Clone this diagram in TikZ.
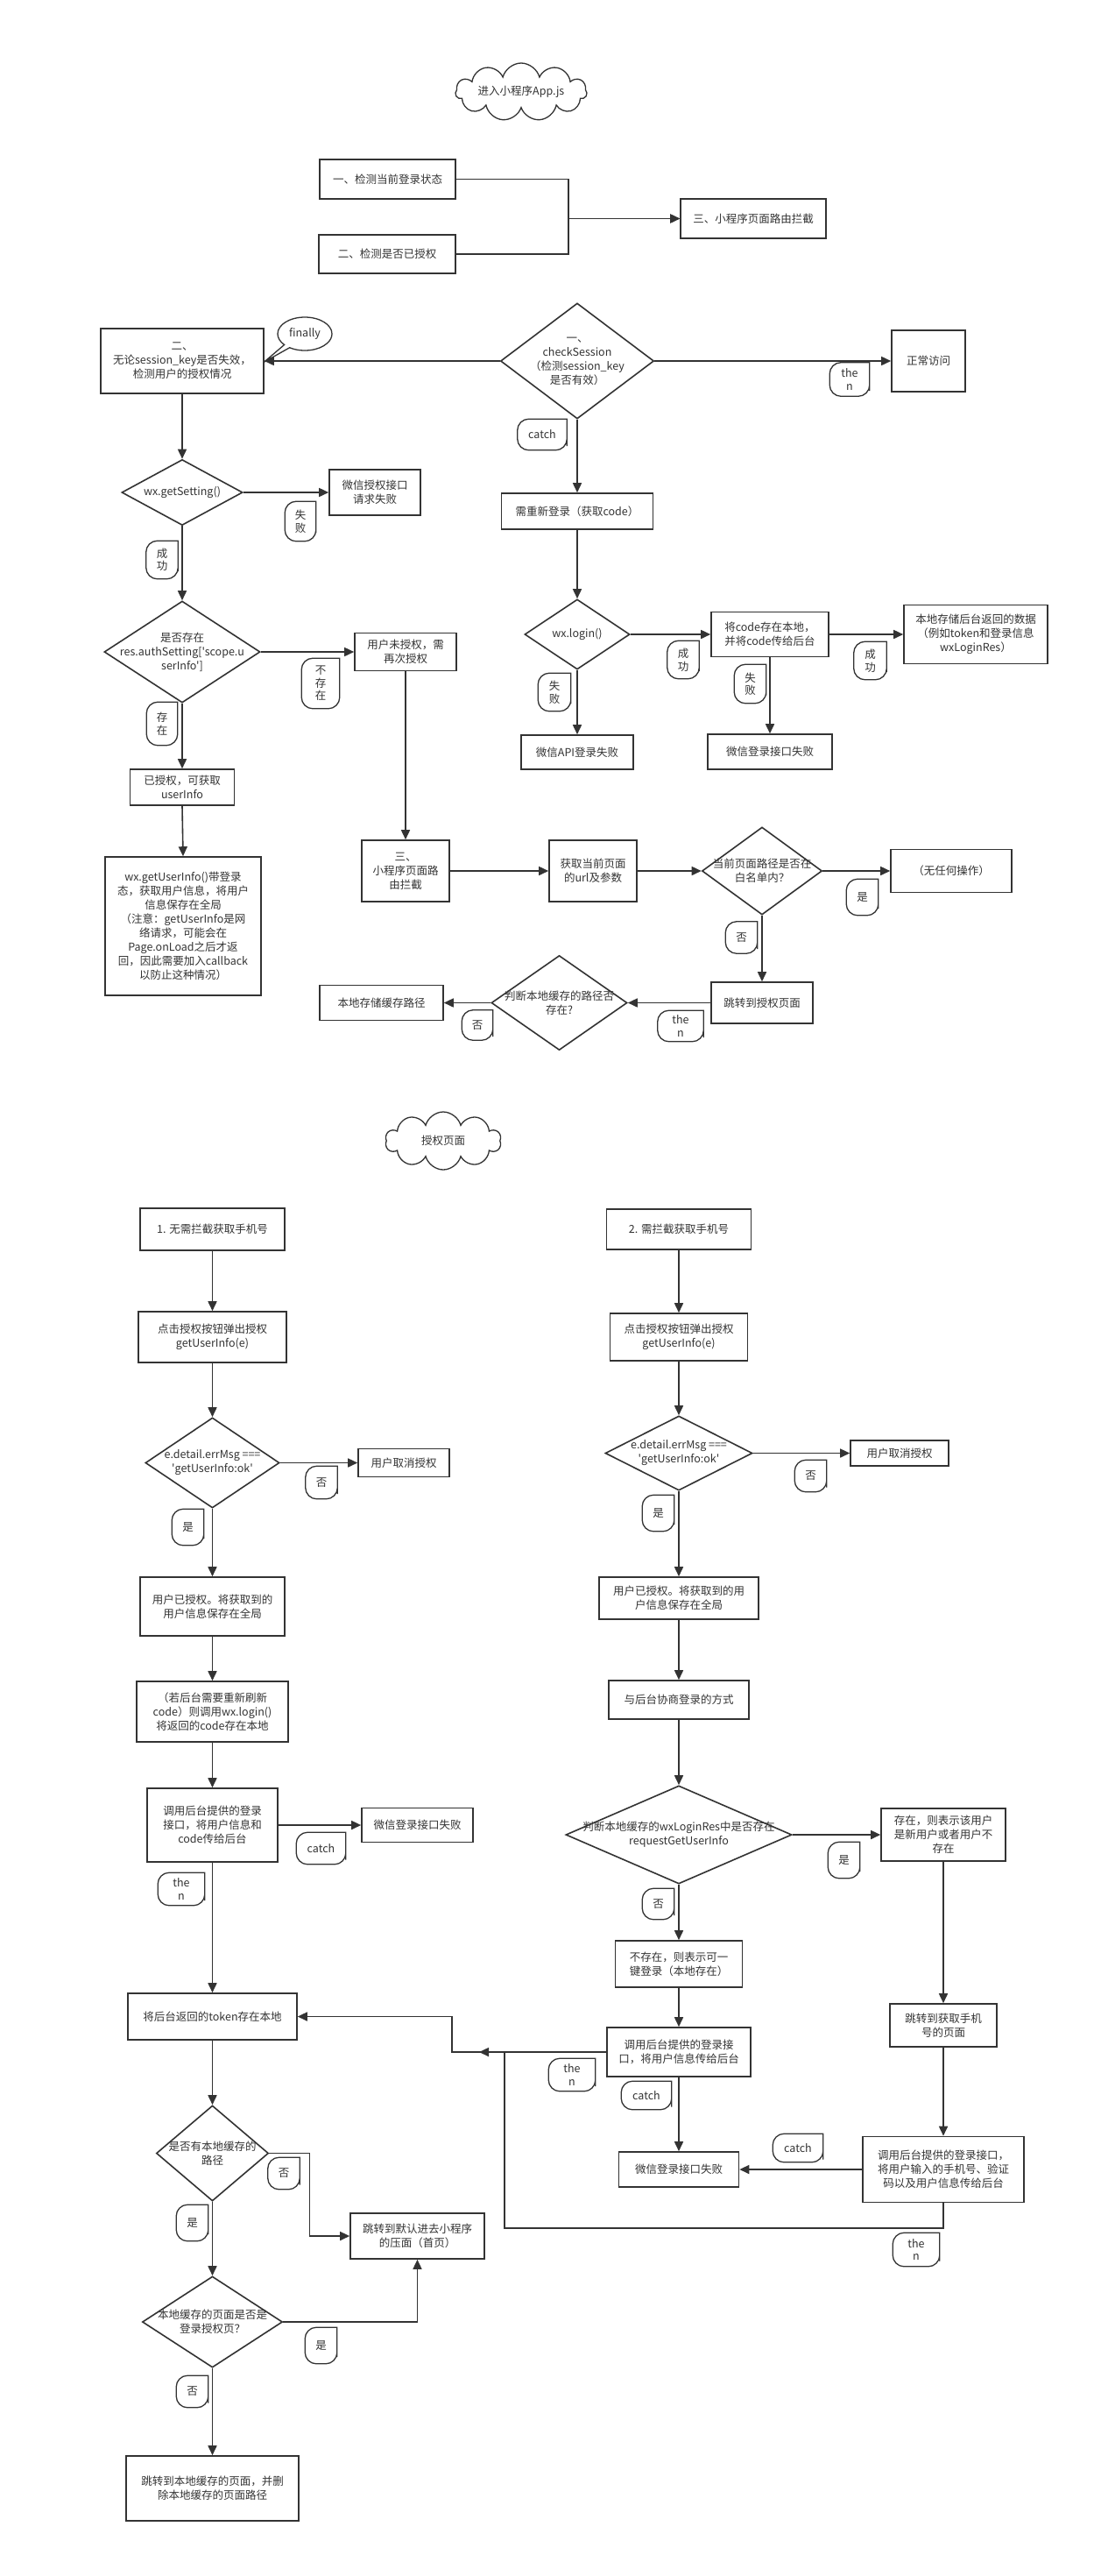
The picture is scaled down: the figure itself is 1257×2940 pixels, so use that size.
\documentclass[tikz,border=0pt]{standalone}
\usepackage{fontspec}
\usetikzlibrary{arrows.meta,shapes.geometric,shapes.symbols,shapes.callouts}
\newfontfamily\cjkfont{Noto Sans CJK SC}
\definecolor{linegray}{HTML}{333333}

\begin{document}
\begin{tikzpicture}[x=1pt, y=-1pt, color=linegray, line width=1.6pt,
  >={Triangle[length=11pt,width=10pt]},
  font=\cjkfont\fontsize{12.5}{16}\selectfont,
  every label/.style={align=center},
  box/.style 2 args={draw, rectangle, align=center, inner sep=2pt, minimum width=#1, minimum height=#2},
  dia/.style 2 args={draw, diamond, inner sep=0pt, minimum width=#1, minimum height=#2},
  tag/.style 2 args={align=center, inner sep=0pt, minimum width=#1, minimum height=#2,
    font=\cjkfont\fontsize{12.5}{14.5}\selectfont},
  tagline/.style={line width=1.3pt},
  bubble/.style={draw, line width=1.3pt, inner sep=0pt}]

\useasboundingbox[fill=white] (0,0) rectangle (1257,2940);

% ---- App.js ----
\node[bubble, cloud, cloud puffs=11, cloud ignores aspect, minimum width=150, minimum height=66] (app) at (595,105) {进入小程序App.js};
\node[box={155}{45}] (b1) at (442.5,204.5) {一、检测当前登录状态};
\node[box={156}{44}] (b2) at (442,290) {二、检测是否已授权};
\node[box={166}{45}] (b3) at (860,249.5) {三、小程序页面路由拦截};
\coordinate (j1) at (649,249.5);

\node[dia={175}{132}, label={center:一、\\checkSession\\（检测session\_key\\是否有效）}] (cs) at (659,412) {};
\node[box={186}{74}] (auth) at (208,412) {二、\\无论session\_key是否失效，\\检测用户的授权情况};
\node[bubble, ellipse callout, minimum width=62, minimum height=38, callout relative pointer={(-26pt,-18pt)}] (fin) at (348,381) {finally};
\node[box={84}{70}] (normal) at (1060,412) {正常访问};
\node[box={173}{41}] (relogin) at (659,583.5) {需重新登录（获取code）};
\node[dia={120}{80}, label={center:wx.login()}] (login) at (659,724) {};
\node[box={128}{39}] (apifail) at (659,858.5) {微信API登录失败};
\node[box={134}{51}] (savecode) at (879,724) {将code存在本地，\\并将code传给后台};
\node[box={142}{40}] (loginfail) at (879,858) {微信登录接口失败};
\node[box={164}{67}] (store) at (1114,724) {本地存储后台返回的数据\\（例如token和登录信息\\wxLoginRes）};

\node[dia={138}{75}, label={center:wx.getSetting()}] (gs) at (208,562) {};
\node[box={104}{52}] (gsfail) at (428,562) {微信授权接口\\请求失败};
\node[dia={178}{116}, label={center:是否存在\\res.authSetting['scope.u\\serInfo']}] (as) at (208,744) {};
\node[box={116}{43}] (noauth) at (463,744) {用户未授权，需\\再次授权};
\node[box={119}{41}] (hasauth) at (208,898.5) {已授权，可获取\\userInfo};
\node[box={178}{158}] (getinfo) at (209,1057) {wx.getUserInfo()带登录\\态，获取用户信息，将用户\\信息保存在全局\\（注意：getUserInfo是网\\络请求，可能会在\\Page.onLoad之后才返\\回，因此需要加入callback\\以防止这种情况）};
\node[box={100}{70}] (route) at (463,994) {三、\\小程序页面路\\由拦截};
\node[box={100}{70}] (geturl) at (677,994) {获取当前页面\\的url及参数};
\node[dia={137}{100}, label={center:当前页面路径是否在\\白名单内？}] (white) at (870,994) {};
\node[box={138}{49}] (noop) at (1086,994) {（无任何操作）};
\node[box={116}{47}] (toauth) at (870,1144.5) {跳转到授权页面};
\node[dia={155}{108}, label={center:判断本地缓存的路径否\\存在?}] (cache) at (638.5,1144.5) {};
\node[box={141}{40}] (savepath) at (435.5,1144.5) {本地存储缓存路径};

% ---- 授权页面 ----
\node[bubble, cloud, cloud puffs=10, cloud ignores aspect, minimum width=132, minimum height=66] (page) at (506,1302) {授权页面};

\node[box={165}{48}] (p1) at (242.5,1403) {1. 无需拦截获取手机号};
\node[box={169}{58}] (click1) at (242.5,1526) {点击授权按钮弹出授权\\getUserInfo(e)};
\node[dia={153}{103}, label={center:e.detail.errMsg ===\\'getUserInfo:ok'}] (chk1) at (242.5,1669.5) {};
\node[box={104}{32}] (cancel1) at (461,1669.5) {用户取消授权};
\node[box={165}{67}] (ok1) at (242.5,1833.5) {用户已授权。将获取到的\\用户信息保存在全局};
\node[box={173}{69}] (relog1) at (242.5,1953.5) {（若后台需要重新刷新\\code）则调用wx.login()\\将返回的code存在本地};
\node[box={149}{84}] (call1) at (242.5,2083) {调用后台提供的登录\\接口，将用户信息和\\code传给后台};
\node[box={127}{39}] (fail1) at (476.5,2083) {微信登录接口失败};
\node[box={193}{53}] (token) at (242.5,2301.5) {将后台返回的token存在本地};
\node[dia={128}{109}, label={center:是否有本地缓存的\\路径}] (hp) at (242.5,2457.5) {};
\node[box={153}{52}] (home) at (476.5,2552) {跳转到默认进去小程序\\的压面（首页）};
\node[dia={160}{104}, label={center:本地缓存的页面是否是\\登录授权页？}] (ia) at (242.5,2650) {};
\node[box={197}{74}] (back) at (242.5,2840) {跳转到本地缓存的页面，并删\\除本地缓存的页面路径};

\node[box={165}{46}] (p2) at (775,1403) {2. 需拦截获取手机号};
\node[box={157}{54}] (click2) at (775,1526) {点击授权按钮弹出授权\\getUserInfo(e)};
\node[dia={168}{85}, label={center:e.detail.errMsg ===\\'getUserInfo:ok'}] (chk2) at (775,1658.5) {};
\node[box={112}{29}] (cancel2) at (1027,1658.5) {用户取消授权};
\node[box={182}{48}] (ok2) at (775,1824) {用户已授权。将获取到的用\\户信息保存在全局};
\node[box={160}{44}] (nego) at (775,1940) {与后台协商登录的方式};
\node[dia={258}{112}, label={center:判断本地缓存的wxLoginRes中是否存在\\requestGetUserInfo}] (wr) at (775,2094) {};
\node[box={142}{60}] (newuser) at (1077,2094) {存在，则表示该用户\\是新用户或者用户不\\存在};
\node[box={145}{53}] (olduser) at (775,2241.5) {不存在，则表示可一\\键登录（本地存在）};
\node[box={164}{56}] (call2) at (775,2342) {调用后台提供的登录接\\口，将用户信息传给后台};
\node[box={137}{40}] (fail2) at (775,2476) {微信登录接口失败};
\node[box={122}{49}] (phone) at (1077,2311.5) {跳转到获取手机\\号的页面};
\node[box={184}{75}] (call3) at (1077,2476) {调用后台提供的登录接口，\\将用户输入的手机号、验证\\码以及用户信息传给后台};
\coordinate (k1) at (353.5,2457.5);
\coordinate (k2) at (516,2342);
\coordinate (k3) at (576,2543);
\coordinate (k4) at (547,2342);

% ---- tags ----
\node[tag={44}{37}] (tThenA) at (970,433) {the\\n};
\node[tag={55}{34}] (tCatchA) at (619,496) {catch};
\node[tag={34}{44}] (tFailA) at (343,595) {失\\败};
\node[tag={35}{42}] (tOkA) at (185,639) {成\\功};
\node[tag={42}{56}] (tNoA) at (366,780) {不\\存\\在};
\node[tag={34}{48}] (tYesA) at (185,826) {存\\在};
\node[tag={36}{42}] (tFailB) at (633,790) {失\\败};
\node[tag={35}{42}] (tOkB) at (780,753) {成\\功};
\node[tag={35}{43}] (tFailC) at (856.5,780.5) {失\\败};
\node[tag={36}{42}] (tOkC) at (993.5,754) {成\\功};
\node[tag={35}{40}] (tYesB) at (984.5,1024) {是};
\node[tag={35}{35}] (tNoB) at (846.5,1070) {否};
\node[tag={51}{34}] (tThenB) at (777,1171) {the\\n};
\node[tag={34}{33}] (tNoC) at (545,1170) {否};
\node[tag={35}{36}] (tNoD) at (367,1692) {否};
\node[tag={35}{40}] (tYesD) at (214.5,1743) {是};
\node[tag={55}{35}] (tCatchB) at (366.5,2109.5) {catch};
\node[tag={52}{36}] (tThenC) at (207,2156) {the\\n};
\node[tag={35}{35}] (tNoE) at (324,2480.5) {否};
\node[tag={35}{40}] (tYesE) at (219.5,2537) {是};
\node[tag={35}{40}] (tYesF) at (366.5,2677) {是};
\node[tag={35}{35}] (tNoF) at (219.5,2729.5) {否};
\node[tag={35}{35}] (tNoG) at (925.5,1684.5) {否};
\node[tag={35}{40}] (tYesG) at (751.5,1727) {是};
\node[tag={35}{40}] (tYesH) at (963.5,2123) {是};
\node[tag={35}{34}] (tNoH) at (751.5,2173) {否};
\node[tag={52}{36}] (tThenD) at (653,2368) {the\\n};
\node[tag={56}{31}] (tCatchC) at (738,2391.5) {catch};
\node[tag={56}{31}] (tCatchD) at (911,2451.5) {catch};
\node[tag={52}{37}] (tThenE) at (1046,2567.5) {the\\n};

\foreach \t in {tThenA,tCatchA,tFailA,tOkA,tNoA,tYesA,tFailB,tOkB,tFailC,tOkC,tYesB,tNoB,
  tThenB,tNoC,tNoD,tYesD,tCatchB,tThenC,tNoE,tYesE,tYesF,tNoF,tNoG,tYesG,tYesH,tNoH,
  tThenD,tCatchC,tCatchD,tThenE}
  \draw[tagline] (\t.north) [rounded corners=13pt] -- (\t.north west) -- (\t.south west)
    -- (\t.south east) -- (\t.east) [sharp corners] -- (\t.north east) -- cycle;

% ---- connectors, top ----
\draw[->] (b1.east) -| (j1) -- (b3.west);
\draw[->] (b2.east) -| (j1) -- (b3.west);
\draw[->] (cs.west) -- (auth.east);
\draw[->] (cs.east) -- (normal.west);
\draw[->] (cs.south) -- (relogin.north);
\draw[->] (relogin.south) -- (login.north);
\draw[->] (login.south) -- (apifail.north);
\draw[->] (login.east) -- (savecode.west);
\draw[->] (savecode.south) -- (loginfail.north);
\draw[->] (savecode.east) -- (store.west);
\draw[->] (auth.south) -- (gs.north);
\draw[->] (gs.east) -- (gsfail.west);
\draw[->] (gs.south) -- (as.north);
\draw[->] (as.east) -- (noauth.west);
\draw[->] (as.south) -- (hasauth.north);
\draw[->] (hasauth.south) -- (getinfo.north);
\draw[->] (noauth.south) -- (route.north);
\draw[->] (route.east) -- (geturl.west);
\draw[->] (geturl.east) -- (white.west);
\draw[->] (white.east) -- (noop.west);
\draw[->] (white.south) -- (toauth.north);
\draw[->] (toauth.west) -- (cache.east);
\draw[->] (cache.west) -- (savepath.east);

% ---- connectors, 授权页面 ----
\draw[->] (p1.south) -- (click1.north);
\draw[->] (click1.south) -- (chk1.north);
\draw[->] (chk1.east) -- (cancel1.west);
\draw[->] (chk1.south) -- (ok1.north);
\draw[->] (ok1.south) -- (relog1.north);
\draw[->] (relog1.south) -- (call1.north);
\draw[->] (call1.east) -- (fail1.west);
\draw[->] (call1.south) -- (token.north);
\draw[->] (token.south) -- (hp.north);
\draw[->] (hp.east) -- (k1) |- (home.west);
\draw[->] (hp.south) -- (ia.north);
\draw[->] (ia.east) -| (home.south);
\draw[->] (ia.south) -- (back.north);

\draw[->] (p2.south) -- (click2.north);
\draw[->] (click2.south) -- (chk2.north);
\draw[->] (chk2.east) -- (cancel2.west);
\draw[->] (chk2.south) -- (ok2.north);
\draw[->] (ok2.south) -- (nego.north);
\draw[->] (nego.south) -- (wr.north);
\draw[->] (wr.east) -- (newuser.west);
\draw[->] (wr.south) -- (olduser.north);
\draw[->] (olduser.south) -- (call2.north);
\draw[->] (call2.south) -- (fail2.north);
\draw[->] (call2.west) -- (k2) |- (token.east);
\draw[->] (newuser.south) -- (phone.north);
\draw[->] (phone.south) -- (call3.north);
\draw[->] (call3.west) -- (fail2.east);
\draw[->] (call3.south) |- (k3) |- (k4);
\end{tikzpicture}
\end{document}
